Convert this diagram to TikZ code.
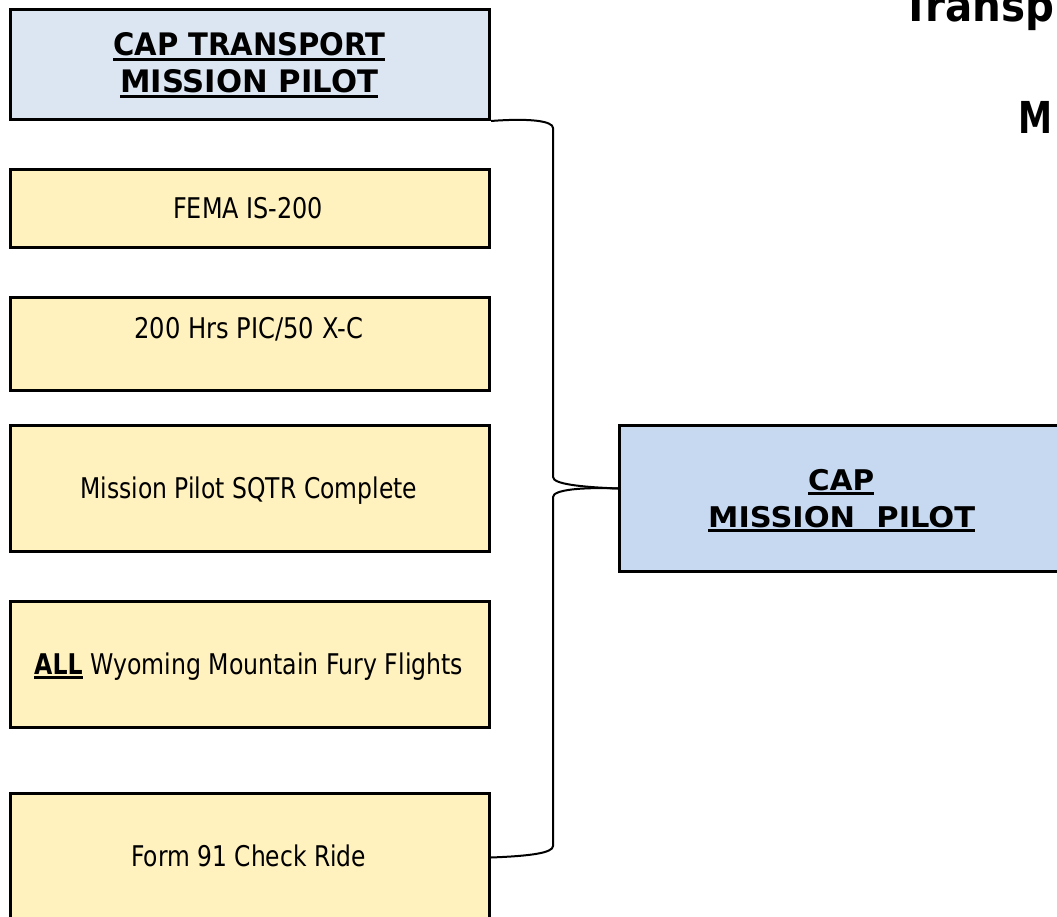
\documentclass[tikz,border=0pt]{standalone}
\usepackage{fontspec}
\setmainfont{DejaVu Sans}
\usepackage{graphicx}
\definecolor{hdrblue}{HTML}{DCE6F2}
\definecolor{tgtblue}{HTML}{C6D9F1}
\definecolor{reqyellow}{HTML}{FFF2BE}
\newcommand\fw[2]{\resizebox{#1pt}{\height}{#2}}
\newcommand\ulbox[1]{\vtop{\hbox{#1}\kern2pt\hrule height 2.6pt}}
\tikzset{
  box/.style={draw=black, line width=3pt, rectangle, inner sep=0pt, anchor=north west},
  reqbox/.style={box, fill=reqyellow, minimum width=479pt},
  txt/.style={inner sep=0pt, anchor=base west},
  body/.style={txt, font=\fontsize{28.5}{34}\selectfont},
  head/.style={txt, font=\fontsize{31}{37}\selectfont\bfseries},
  brace/.style={draw=black, line width=2pt}
}
\begin{document}
\begin{tikzpicture}[x=1pt, y=-1pt]
\useasboundingbox (0,0) rectangle (1057,917);
\clip (0,0) rectangle (1057,917);
% title (partly off page, as in the reference)
\node[txt, font=\fontsize{44}{50}\selectfont\bfseries] (t1) at (902,22) {\fw{152}{Transp}};
\node[txt, font=\fontsize{44}{50}\selectfont\bfseries] (t2) at (1018,134) {\fw{34}{M}};
% header box
\node[box, fill=hdrblue, minimum width=479pt, minimum height=110pt] (hdr) at (9,8) {};
\node[head] (h1) at (113,56) {\fw{272}{\ulbox{CAP TRANSPORT}}};
\node[head] (h2) at (120,93) {\fw{258}{\ulbox{MISSION PILOT}}};
% requirement boxes
\node[reqbox, minimum height=78pt] (fema) at (9,168) {};
\node[body] (femat) at (173,219) {\fw{150}{FEMA IS-200}};
\node[reqbox, minimum height=93pt] (hrs) at (9,296) {};
\node[body] (hrst) at (134,338) {\fw{229}{200 Hrs PIC/50 X-C}};
\node[reqbox, minimum height=126pt] (sqtr) at (9,424) {};
\node[body] (sqtrt) at (80,498) {\fw{337}{Mission Pilot SQTR Complete}};
\node[reqbox, minimum height=126pt] (wmf) at (9,600) {};
\node[body] (wmft) at (34,674) {\fw{429}{\ulbox{\bfseries ALL} Wyoming Mountain Fury Flights}};
\node[reqbox, minimum height=128pt] (form) at (9,792) {};
\node[body] (formt) at (131,866) {\fw{235}{Form 91 Check Ride}};
% target box
\node[box, fill=tgtblue, minimum width=448pt, minimum height=146pt] (mp) at (618,424) {};
\node[txt, font=\fontsize{28.5}{34}\selectfont\bfseries] (mp1) at (808,490) {\fw{66}{\ulbox{CAP}}};
\node[txt, font=\fontsize{28.5}{34}\selectfont\bfseries] (mp2) at (708,527) {\fw{267}{\ulbox{MISSION\ \ PILOT}}};
% brace
\coordinate (tip) at ([yshift=10pt]mp.west);
\draw[brace] (hdr.south east) .. controls (530,118) and (553,121) .. (553,128)
  -- (553,477) .. controls (553,484) and (580,487) .. (tip);
\draw[brace] (tip) .. controls (580,487) and (553,490) .. (553,497)
  -- (553,846) .. controls (553,853) and (530,856) .. (form.east);
\end{tikzpicture}
\end{document}
